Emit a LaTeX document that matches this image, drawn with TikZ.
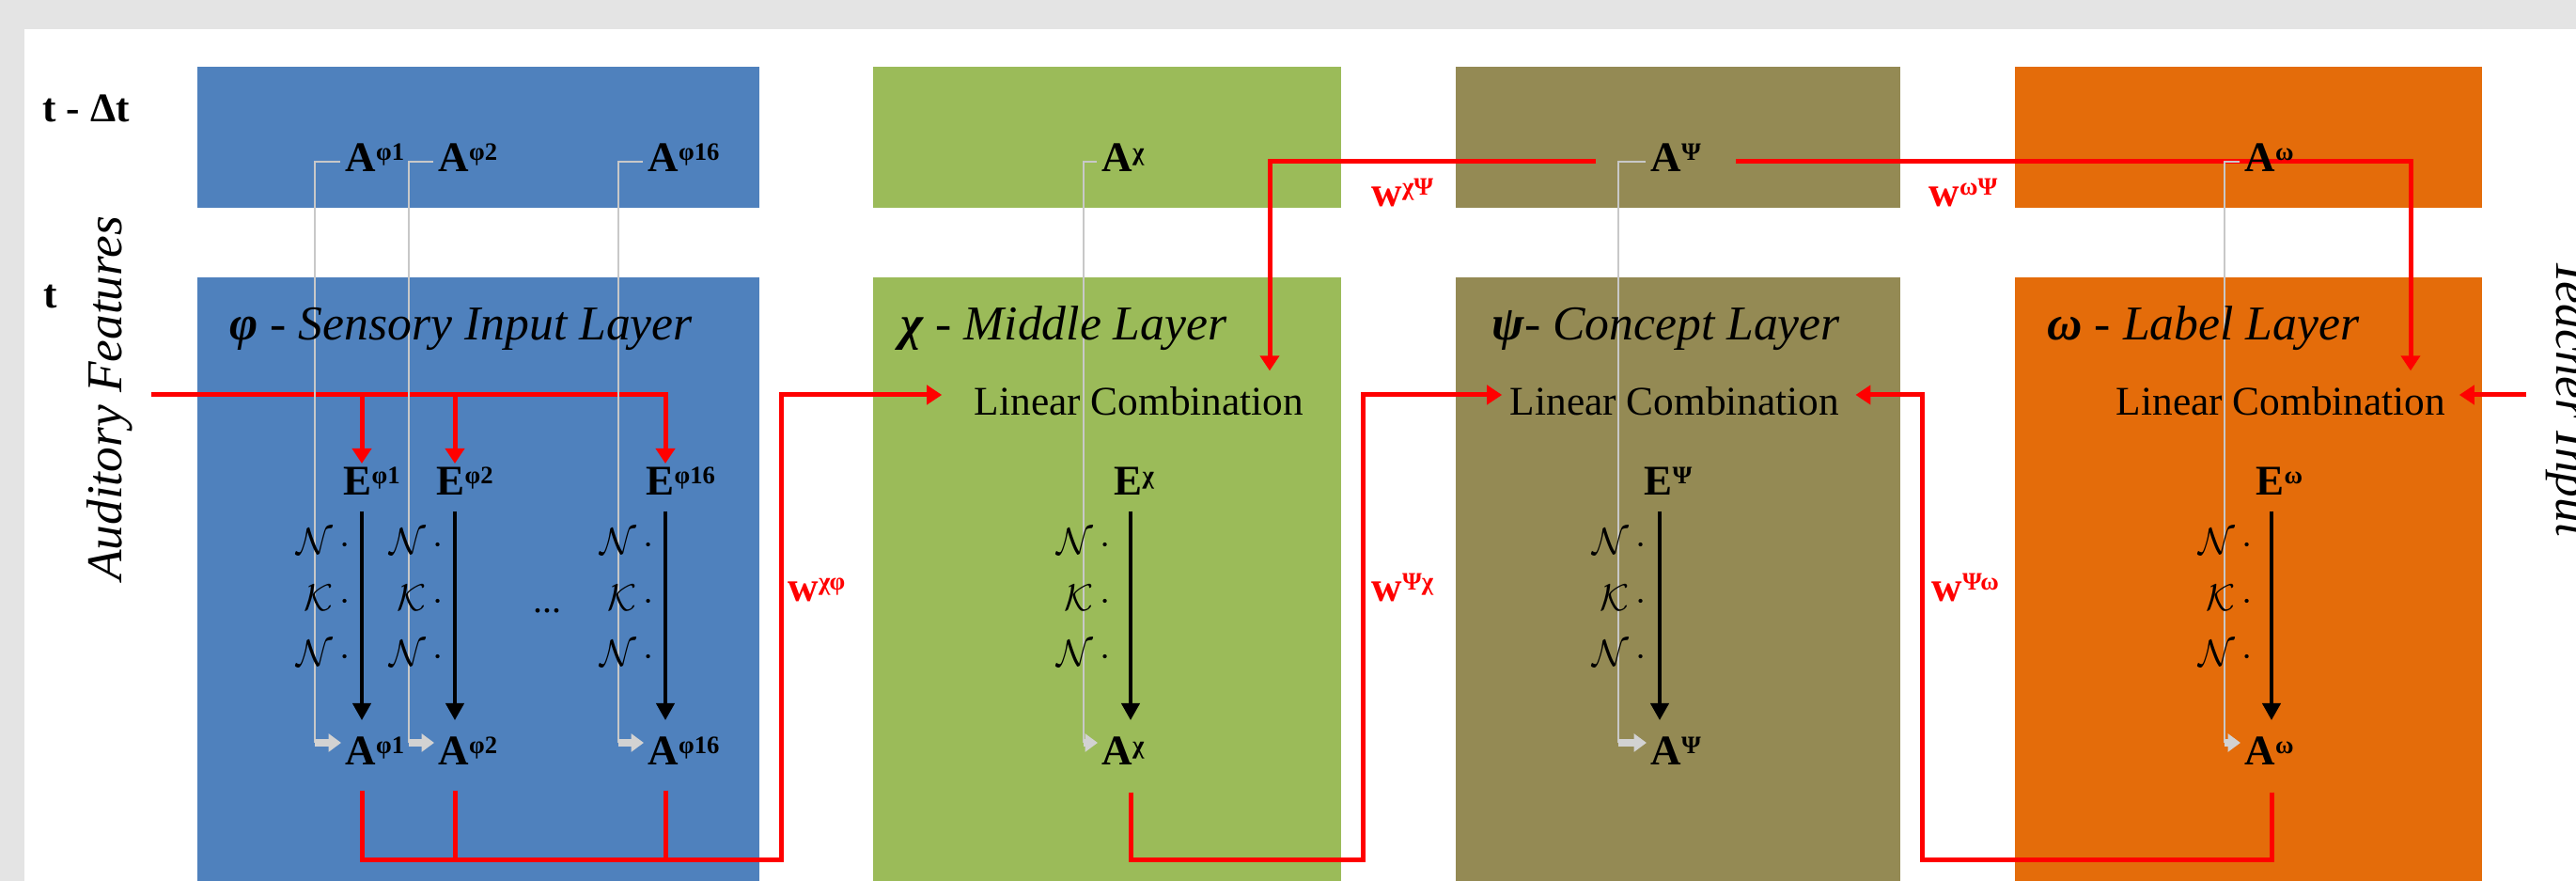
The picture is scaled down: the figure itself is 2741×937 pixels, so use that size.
\documentclass[tikz,border=0pt]{standalone}
\usepackage{fontspec}
\setmainfont{Liberation Serif}
\usetikzlibrary{arrows.meta,calc}
\pgfdeclarelayer{bg}
\pgfdeclarelayer{mid}
\pgfsetlayers{bg,mid,main}
\definecolor{cblue}{HTML}{4F81BD}
\definecolor{cgreen}{HTML}{9BBB59}
\definecolor{colive}{HTML}{948A54}
\definecolor{corange}{HTML}{E46C0A}
\definecolor{cbg}{HTML}{E4E4E4}
\definecolor{cgrayline}{HTML}{C8C8C8}
\definecolor{cgrayarr}{HTML}{D2D2D2}
\definecolor{cred}{HTML}{FF0000}
\newcommand\Sp[1]{\raisebox{3.8pt}{\fontsize{8}{8}\selectfont\bfseries #1}}
\begin{document}
\begin{tikzpicture}[x=0.3pt,y=-0.3pt,
  lbl/.style={inner sep=0pt, font=\fontsize{13.5}{14}\selectfont\bfseries, text height=10pt, text depth=0pt, anchor=base west},
  lc/.style={inner sep=0pt, font=\fontsize{13}{14}\selectfont, text height=9.3pt, text depth=0pt, anchor=base},
  ttl/.style={inner sep=0pt, font=\fontsize{15.5}{16}\selectfont, anchor=base west},
  wl/.style={inner sep=0pt, font=\fontsize{13.5}{14}\selectfont\bfseries, text=cred, anchor=base west},
  nk/.style={inner sep=0pt, font=\fontsize{12.5}{13}\selectfont, anchor=east},
  side/.style={inner sep=0pt, font=\fontsize{16}{16}\selectfont\itshape, anchor=base},
  tlab/.style={inner sep=0pt, font=\fontsize{13}{14}\selectfont\bfseries, anchor=base west},
  redline/.style={draw=cred, line width=1.5pt, line join=miter},
  redarr/.style={redline, -{Triangle[length=4.8pt,width=6pt]}},
  blkarr/.style={draw=black, line width=1.2pt, -{Triangle[length=5.4pt,width=5.7pt]}, shorten <=4.8pt, shorten >=4.2pt},
  grayln/.style={draw=cgrayline, line width=0.45pt, shorten <=1.5pt},
  grayarr/.style={draw=cgrayarr, line width=2.4pt, -{Triangle[length=4pt,width=5.6pt]}, shorten >=1.2pt}
]
\useasboundingbox (0,0) rectangle (2741,937);
\clip (0,0) rectangle (2741,937);

% ---------- backgrounds ----------
\begin{pgfonlayer}{bg}
\fill[white] (0,0) rectangle (2741,937);
\fill[cbg] (0,0) rectangle (2741,31);
\fill[cbg] (0,0) rectangle (26,937);
\fill[cblue]   (210,71) rectangle (808,221);
\fill[cblue]   (210,295) rectangle (808,937);
\fill[cgreen]  (929,71) rectangle (1427,221);
\fill[cgreen]  (929,295) rectangle (1427,937);
\fill[colive]  (1549,71) rectangle (2022,221);
\fill[colive]  (1549,295) rectangle (2022,937);
\fill[corange] (2144,71) rectangle (2641,221);
\fill[corange] (2144,295) rectangle (2641,937);
\end{pgfonlayer}

% ---------- helper coordinates ----------
\coordinate (row) at (0,420);
\coordinate (ytop) at (0,172);
\coordinate (ybot) at (0,790);
\coordinate (bot) at (0,915);
\coordinate (c1) at (385,0);
\coordinate (c2) at (484,0);
\coordinate (c16) at (708,0);
\coordinate (cc) at (1203,0);
\coordinate (cs) at (1766,0);
\coordinate (co) at (2417,0);
\coordinate (g1) at (335,0);
\coordinate (g2) at (435,0);
\coordinate (g16) at (658,0);
\coordinate (gc) at (1153,0);
\coordinate (gs) at (1722,0);
\coordinate (go) at (2367,0);
\coordinate (audin) at (161,420);
\coordinate (teach) at (2688,420);
\coordinate (phiturn) at (831,915);
\coordinate (chiturn) at (1450,915);
\coordinate (omturn) at (2045,915);
\coordinate (psiL) at (1698,172);
\coordinate (psiR) at (1847,172);
\coordinate (chidrop) at (1351,172);
\coordinate (omdrop) at (2565,172);

% ---------- side texts ----------
\node[tlab] (tdt) at (45,130) {t - Δt};
\node[tlab] (tt) at (46,328) {t};
\node[side, rotate=90] (aud) at (129,424) {Auditory Features};
\node[side, rotate=-90] (tea) at (2720,423) {Teacher Input};

% ---------- titles ----------
\node[ttl] (Tphi) at (244,362) {{\bfseries\itshape φ} - \textit{Sensory Input Layer}};
\node[ttl] (Tchi) at (958,362) {{\bfseries\itshape χ} - \textit{Middle Layer}};
\node[ttl] (Tpsi) at (1587,362) {{\bfseries\itshape ψ}- \textit{Concept Layer}};
\node[ttl] (Tom) at (2178,362) {{\bfseries\itshape ω} - \textit{Label Layer}};

% ---------- linear combinations ----------
\node[lc] (LCc) at (1212,442) {Linear Combination};
\node[lc] (LCs) at (1782,442) {Linear Combination};
\node[lc] (LCo) at (2427,442) {Linear Combination};

% ---------- A (t - dt) ----------
\node[lbl] (P1t) at (367,183) {A\Sp{φ1}};
\node[lbl] (P2t) at (466,183) {A\Sp{φ2}};
\node[lbl] (P16t) at (689,183) {A\Sp{φ16}};
\node[lbl] (Ct) at (1172,183) {A\Sp{χ}};
\node[lbl] (St) at (1756,183) {A\Sp{Ψ}};
\node[lbl] (Ot) at (2388,183) {A\Sp{ω}};

% ---------- E ----------
\node[lbl] (E1) at (365,527) {E\Sp{φ1}};
\node[lbl] (E2) at (464,527) {E\Sp{φ2}};
\node[lbl] (E16) at (687,527) {E\Sp{φ16}};
\node[lbl] (Ec) at (1185,527) {E\Sp{χ}};
\node[lbl] (Es) at (1749,527) {E\Sp{Ψ}};
\node[lbl] (Eo) at (2400,527) {E\Sp{ω}};

% ---------- A (t) ----------
\node[lbl] (P1b) at (367,814) {A\Sp{φ1}};
\node[lbl] (P2b) at (466,814) {A\Sp{φ2}};
\node[lbl] (P16b) at (689,814) {A\Sp{φ16}};
\node[lbl] (Cb) at (1172,814) {A\Sp{χ}};
\node[lbl] (Sb) at (1756,814) {A\Sp{Ψ}};
\node[lbl] (Ob) at (2388,814) {A\Sp{ω}};

% ---------- N K N ----------
\foreach \nm/\xx in {a/373, b/472, c/696, d/1182, e/1752, f/2397}{
  \node[nk] (N1\nm) at (\xx,576) {$\mathcal{N}\,\cdot$};
  \node[nk] (K\nm) at (\xx,636) {$\mathcal{K}\,\cdot$};
  \node[nk] (N2\nm) at (\xx,695) {$\mathcal{N}\,\cdot$};
}
\node[inner sep=0pt, anchor=base, font=\fontsize{12}{12}\selectfont] (dots) at (582,652) {...};

% ---------- weights ----------
\node[wl] (wcp) at (838,640) {w\Sp{χφ}};
\node[wl] (wpc) at (1459,640) {w\Sp{Ψχ}};
\node[wl] (wpo) at (2055,640) {w\Sp{Ψω}};
\node[wl] (wcP) at (1459,220) {w\Sp{χΨ}};
\node[wl] (woP) at (2052,220) {w\Sp{ωΨ}};

% ---------- connectors ----------
\begin{pgfonlayer}{mid}
% red: auditory input
\draw[redarr] (audin) -| (E16.north -| c16);
\draw[redarr] (c1 |- row) -- (E1.north -| c1);
\draw[redarr] (c2 |- row) -- (E2.north -| c2);
% red: phi -> chi
\draw[redarr, shorten <=7.8pt, shorten >=10.2pt] (P1b.south -| c1) -- (c1 |- bot) -- (phiturn) -- (phiturn |- row) -- (LCc.west |- row);
\draw[redline, shorten <=7.8pt] (P2b.south -| c2) -- (c2 |- bot);
\draw[redline, shorten <=7.8pt] (P16b.south -| c16) -- (c16 |- bot);
% red: chi -> psi
\draw[redarr, shorten <=8.4pt, shorten >=2.4pt] (Cb.south -| cc) -- (cc |- bot) -- (chiturn) -- (chiturn |- row) -- (LCs.west |- row);
% red: omega -> psi
\draw[redarr, shorten <=8.4pt, shorten >=5pt] (Ob.south -| co) -- (co |- bot) -- (omturn) -- (omturn |- row) -- (LCs.east |- row);
% red: psi (t-dt) -> chi, omega
\draw[redarr, shorten >=4.8pt] (psiL) -- (chidrop) -- (chidrop |- LCc.north);
\draw[redarr, shorten >=4.8pt] (psiR) -- (omdrop) -- (omdrop |- LCo.north);
% red: teacher
\draw[redarr, shorten >=4.2pt] (teach) -- (LCo.east |- row);

% black: E -> A
\draw[blkarr] (E1.south -| c1) -- (P1b.north -| c1);
\draw[blkarr] (E2.south -| c2) -- (P2b.north -| c2);
\draw[blkarr] (E16.south -| c16) -- (P16b.north -| c16);
\draw[blkarr] (Ec.south -| cc) -- (Cb.north -| cc);
\draw[blkarr] (Es.south -| cs) -- (Sb.north -| cs);
\draw[blkarr] (Eo.south -| co) -- (Ob.north -| co);

% gray: A(t-dt) -> A(t)
\foreach \tp/\bt/\gg in {P1t/P1b/g1, P2t/P2b/g2, P16t/P16b/g16, Ct/Cb/gc, St/Sb/gs, Ot/Ob/go}{
  \draw[grayln] (\tp.west |- ytop) -| (\gg |- ybot);
  \draw[grayarr] (\gg |- ybot) -- (\bt.west |- ybot);
}
\end{pgfonlayer}
\end{tikzpicture}
\end{document}
